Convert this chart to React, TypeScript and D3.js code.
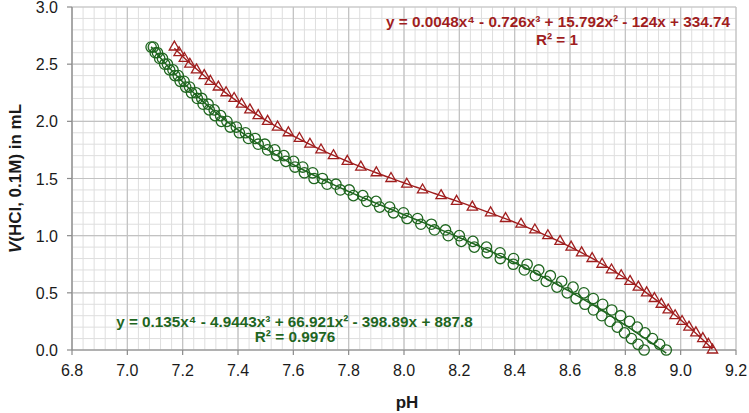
import React from "react";
import * as d3 from "d3";

// titrant volume (mL) for every reading
const volumeML = [
  2.65, 2.6, 2.55, 2.5, 2.45, 2.4, 2.35, 2.3, 2.25, 2.2, 2.15, 2.1, 2.05, 2.0,
  1.95, 1.9, 1.85, 1.8, 1.75, 1.7, 1.65, 1.6, 1.55, 1.5, 1.45, 1.4, 1.35, 1.3,
  1.25, 1.2, 1.15, 1.1, 1.05, 1.0, 0.95, 0.9, 0.85, 0.8, 0.75, 0.7, 0.65, 0.6,
  0.55, 0.5, 0.45, 0.4, 0.35, 0.3, 0.25, 0.2, 0.15, 0.1, 0.05, 0.0,
];

const phRed = [
  7.17, 7.187, 7.206, 7.226, 7.25, 7.278, 7.3, 7.329, 7.357, 7.386, 7.413,
  7.443, 7.473, 7.507, 7.543, 7.582, 7.622, 7.66, 7.7, 7.745, 7.795, 7.844,
  7.9, 7.953, 8.01, 8.067, 8.134, 8.19, 8.247, 8.313, 8.367, 8.423, 8.473,
  8.52, 8.564, 8.604, 8.642, 8.68, 8.716, 8.75, 8.785, 8.817, 8.847, 8.877,
  8.905, 8.93, 8.955, 8.98, 9.005, 9.03, 9.055, 9.08, 9.1, 9.115,
];

const phGreenA = [
  7.094, 7.109, 7.127, 7.145, 7.165, 7.184, 7.205, 7.225, 7.248, 7.269, 7.292,
  7.314, 7.337, 7.36, 7.394, 7.427, 7.462, 7.497, 7.533, 7.566, 7.601, 7.634,
  7.67, 7.705, 7.754, 7.802, 7.851, 7.899, 7.948, 7.998, 8.049, 8.099, 8.15,
  8.2, 8.249, 8.298, 8.347, 8.396, 8.445, 8.487, 8.529, 8.57, 8.611, 8.65,
  8.684, 8.718, 8.751, 8.783, 8.815, 8.843, 8.871, 8.898, 8.924, 8.948,
];

const phGreenB = [
  7.086, 7.101, 7.117, 7.135, 7.153, 7.172, 7.191, 7.211, 7.232, 7.253, 7.274,
  7.296, 7.317, 7.34, 7.372, 7.405, 7.438, 7.473, 7.507, 7.54, 7.573, 7.606,
  7.64, 7.675, 7.722, 7.77, 7.817, 7.865, 7.912, 7.962, 8.011, 8.061, 8.11,
  8.16, 8.207, 8.254, 8.301, 8.348, 8.395, 8.435, 8.475, 8.514, 8.553, 8.59,
  8.622, 8.654, 8.685, 8.715, 8.745, 8.771, 8.797, 8.822, 8.846, 8.868,
];

const xTicks = [6.8, 7.0, 7.2, 7.4, 7.6, 7.8, 8.0, 8.2, 8.4, 8.6, 8.8, 9.0, 9.2];
const yTicks = [0, 0.5, 1.0, 1.5, 2.0, 2.5, 3.0];

const redEquation = "y = 0.0048x⁴ - 0.726x³ + 15.792x² - 124x + 334.74";
const redR2 = "R² = 1";
const greenEquation = "y = 0.135x⁴ - 4.9443x³ + 66.921x² - 398.89x + 887.8";
const greenR2 = "R² = 0.9976";

const RED = "#a01e1e";
const GREEN = "#1f661f";
const FONT = "'Liberation Sans', Arial, sans-serif";

// least squares polynomial (x centred for stability)
function polyFit(xs: number[], ys: number[], deg: number) {
  const m = d3.mean(xs) as number;
  const n = deg + 1;
  const A = Array.from({ length: n }, () => new Array(n + 1).fill(0));
  xs.forEach((xv, k) => {
    const t = xv - m;
    for (let i = 0; i < n; i++) {
      for (let j = 0; j < n; j++) A[i][j] += Math.pow(t, i + j);
      A[i][n] += Math.pow(t, i) * ys[k];
    }
  });
  for (let c = 0; c < n; c++) {
    let p = c;
    for (let r = c + 1; r < n; r++) if (Math.abs(A[r][c]) > Math.abs(A[p][c])) p = r;
    [A[c], A[p]] = [A[p], A[c]];
    for (let r = 0; r < n; r++) {
      if (r === c) continue;
      const f = A[r][c] / A[c][c];
      for (let k = c; k <= n; k++) A[r][k] -= f * A[c][k];
    }
  }
  const coef = A.map((row, i) => row[n] / row[i]);
  return (xv: number) => coef.reduce((s, c, i) => s + c * Math.pow(xv - m, i), 0);
}

export default function App() {
  const width = 749;
  const height = 413;
  const left = 72;
  const right = 736;
  const top = 7;
  const bottom = 350;

  const x = d3.scaleLinear().domain([6.8, 9.2]).range([left, right]);
  const y = d3.scaleLinear().domain([0, 3]).range([bottom, top]);

  const minorX = d3.range(0, 61).map((i) => 6.8 + i * 0.04);
  const minorY = d3.range(0, 31).map((i) => i * 0.1);

  const greenX = [...phGreenA, ...phGreenB];
  const greenY = [...volumeML, ...volumeML];
  const fitRed = polyFit(phRed, volumeML, 4);
  const fitGreen = polyFit(greenX, greenY, 4);

  const curve = (fn: (v: number) => number, lo: number, hi: number) => {
    const pts = d3.range(0, 201).map((i) => lo + ((hi - lo) * i) / 200);
    return d3
      .line<number>()
      .x((d) => x(d))
      .y((d) => y(fn(d)))(pts) as string;
  };

  const tri = d3.symbol(d3.symbolTriangle, 46)() as string;

  return (
    <svg
      width={width}
      height={height}
      style={{ position: "absolute", left: 0, top: 0, background: "#fff" }}
      fontFamily={FONT}
    >
      {/* minor grid */}
      {minorX.map((v, i) => (
        <line key={"mx" + i} x1={x(v)} x2={x(v)} y1={top} y2={bottom} stroke="#dedede" strokeWidth={1} />
      ))}
      {minorY.map((v, i) => (
        <line key={"my" + i} x1={left} x2={right} y1={y(v)} y2={y(v)} stroke="#dedede" strokeWidth={1} />
      ))}
      {/* major grid */}
      {xTicks.map((v) => (
        <line key={"gx" + v} x1={x(v)} x2={x(v)} y1={top} y2={bottom} stroke="#c2c2c2" strokeWidth={1.2} />
      ))}
      {yTicks.map((v) => (
        <line key={"gy" + v} x1={left} x2={right} y1={y(v)} y2={y(v)} stroke="#c2c2c2" strokeWidth={1.2} />
      ))}

      {/* axes */}
      <line x1={left} x2={left} y1={top} y2={bottom} stroke="#8a8a8a" strokeWidth={1.2} />
      <line x1={left} x2={right} y1={bottom} y2={bottom} stroke="#8a8a8a" strokeWidth={1.2} />
      {xTicks.map((v) => (
        <g key={"tx" + v}>
          <line x1={x(v)} x2={x(v)} y1={bottom} y2={bottom + 5} stroke="#8a8a8a" strokeWidth={1.2} />
          <text x={x(v)} y={bottom + 26} textAnchor="middle" fontSize={16} fill="#1a1a1a">
            {d3.format(".1f")(v)}
          </text>
        </g>
      ))}
      {yTicks.map((v) => (
        <g key={"ty" + v}>
          <line x1={left - 5} x2={left} y1={y(v)} y2={y(v)} stroke="#8a8a8a" strokeWidth={1.2} />
          <text x={left - 14} y={y(v) + 6} textAnchor="end" fontSize={16} fill="#1a1a1a">
            {d3.format(".1f")(v)}
          </text>
        </g>
      ))}

      {/* markers */}
      {phGreenA.map((p, i) => (
        <circle key={"ga" + i} cx={x(p)} cy={y(volumeML[i])} r={5.2} fill="none" stroke={GREEN} strokeWidth={1.3} />
      ))}
      {phGreenB.map((p, i) => (
        <circle key={"gb" + i} cx={x(p)} cy={y(volumeML[i])} r={5.2} fill="none" stroke={GREEN} strokeWidth={1.3} />
      ))}
      {phRed.map((p, i) => (
        <path
          key={"r" + i}
          d={tri}
          transform={`translate(${x(p)},${y(volumeML[i])})`}
          fill="none"
          stroke={RED}
          strokeWidth={1.3}
        />
      ))}

      {/* trendlines */}
      <path
        d={curve(fitRed, d3.min(phRed) as number, d3.max(phRed) as number)}
        fill="none"
        stroke={RED}
        strokeWidth={1.4}
      />
      <path
        d={curve(fitGreen, d3.min(greenX) as number, d3.max(greenX) as number)}
        fill="none"
        stroke={GREEN}
        strokeWidth={1.5}
      />

      {/* equations */}
      <text x={558} y={27} textAnchor="middle" fontSize={15.3} fontWeight="bold" fill={RED}>
        {redEquation}
      </text>
      <text x={557} y={45} textAnchor="middle" fontSize={15.3} fontWeight="bold" fill={RED}>
        {redR2}
      </text>
      <text x={294.5} y={326.5} textAnchor="middle" fontSize={15.3} fontWeight="bold" fill={GREEN}>
        {greenEquation}
      </text>
      <text x={295} y={342} textAnchor="middle" fontSize={15.3} fontWeight="bold" fill={GREEN}>
        {greenR2}
      </text>

      {/* axis titles */}
      <text x={407} y={408} textAnchor="middle" fontSize={17} fontWeight="bold" fill="#1a1a1a">
        pH
      </text>
      <text
        transform={`translate(21,${(top + bottom) / 2}) rotate(-90)`}
        textAnchor="middle"
        fontSize={17}
        fontWeight="bold"
        fill="#1a1a1a"
      >
        <tspan fontStyle="italic">V</tspan>(HCl, 0.1M) in mL
      </text>
    </svg>
  );
}
